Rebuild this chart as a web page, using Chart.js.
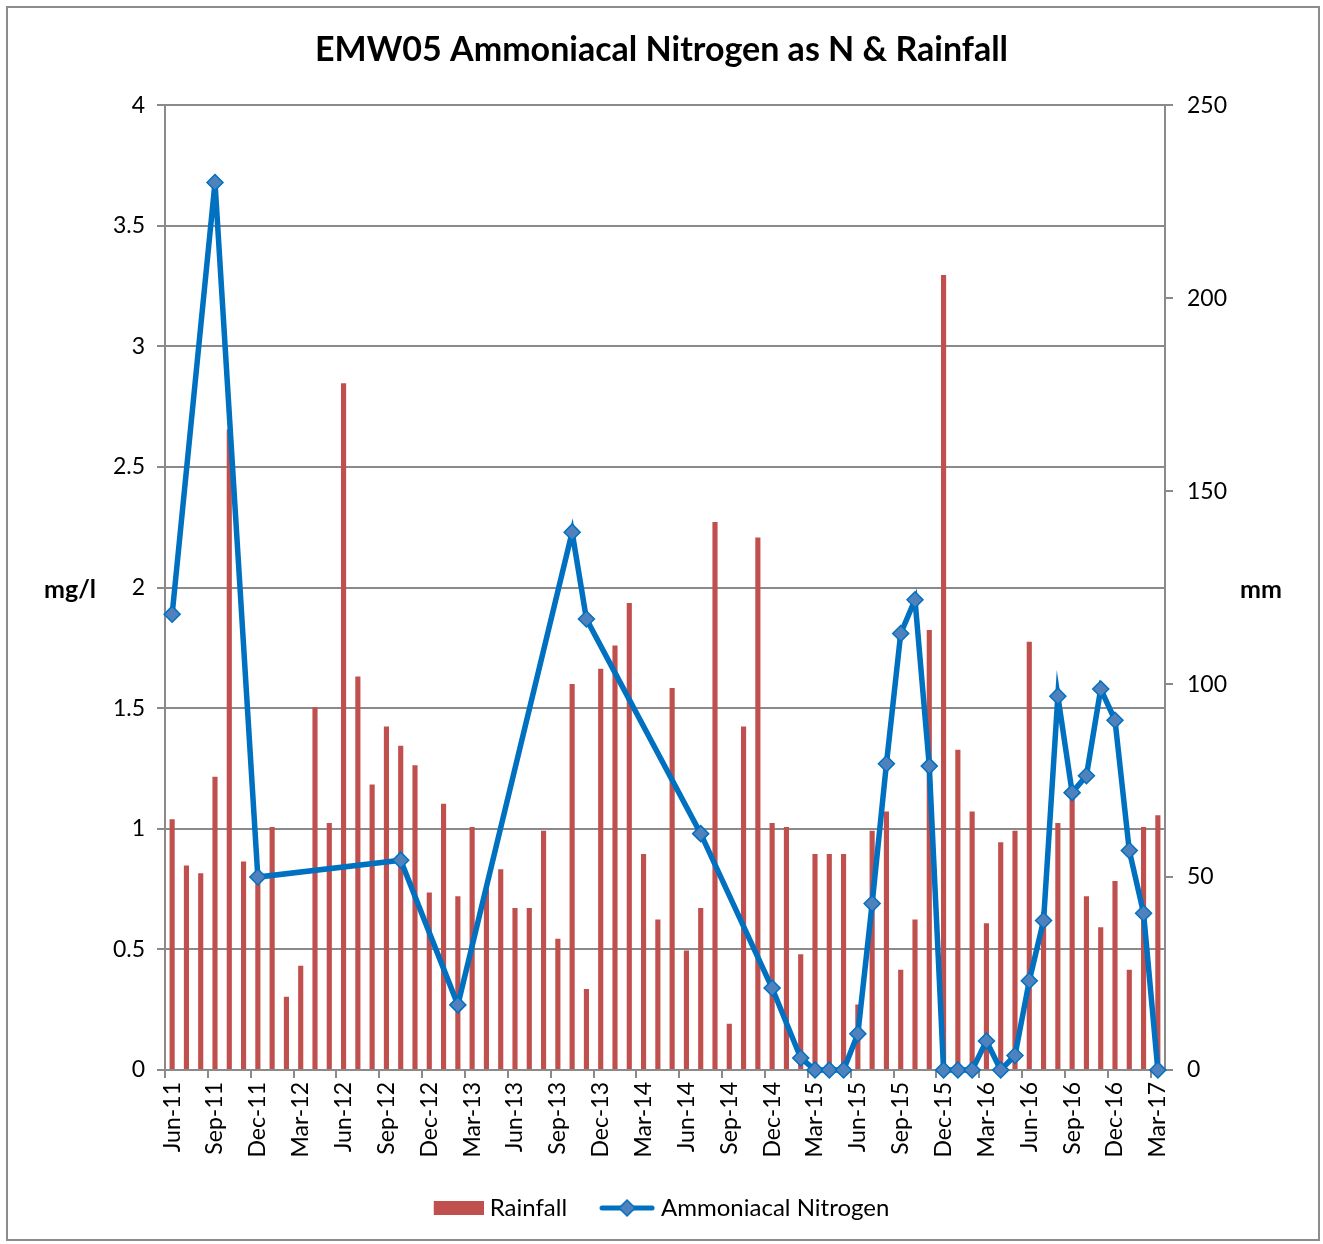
<!DOCTYPE html>
<html>
<head>
<meta charset="utf-8">
<title>EMW05 Ammoniacal Nitrogen as N & Rainfall</title>
<script src="https://cdn.jsdelivr.net/npm/chart.js@4.4.1/dist/chart.umd.min.js"></script>
<style>
  html, body { margin: 0; padding: 0; background: #fff; }
  canvas { display: block; }
</style>
</head>
<body>
<canvas id="chart" width="1323" height="1244"></canvas>
<script>
// Chart data
const chartTitle = 'EMW05 Ammoniacal Nitrogen as N & Rainfall';
const leftAxisTitle = 'mg/l';
const rightAxisTitle = 'mm';

const months = [
    'Jun-11', 'Jul-11', 'Aug-11', 'Sep-11', 'Oct-11', 'Nov-11', 'Dec-11',
    'Jan-12', 'Feb-12', 'Mar-12', 'Apr-12', 'May-12', 'Jun-12', 'Jul-12', 'Aug-12', 'Sep-12', 'Oct-12', 'Nov-12', 'Dec-12',
    'Jan-13', 'Feb-13', 'Mar-13', 'Apr-13', 'May-13', 'Jun-13', 'Jul-13', 'Aug-13', 'Sep-13', 'Oct-13', 'Nov-13', 'Dec-13',
    'Jan-14', 'Feb-14', 'Mar-14', 'Apr-14', 'May-14', 'Jun-14', 'Jul-14', 'Aug-14', 'Sep-14', 'Oct-14', 'Nov-14', 'Dec-14',
    'Jan-15', 'Feb-15', 'Mar-15', 'Apr-15', 'May-15', 'Jun-15', 'Jul-15', 'Aug-15', 'Sep-15', 'Oct-15', 'Nov-15', 'Dec-15',
    'Jan-16', 'Feb-16', 'Mar-16', 'Apr-16', 'May-16', 'Jun-16', 'Jul-16', 'Aug-16', 'Sep-16', 'Oct-16', 'Nov-16', 'Dec-16',
    'Jan-17', 'Feb-17', 'Mar-17'
];

// monthly rainfall, mm (right axis)
const rainfallMm = [
    65, 53, 51, 76, 166, 54, 49, 63, 19, 27,
    94, 64, 178, 102, 74, 89, 84, 79, 46, 69,
    45, 63, 47, 52, 42, 42, 62, 34, 100, 21,
    104, 110, 121, 56, 39, 99, 31, 42, 142, 12,
    89, 138, 64, 63, 30, 56, 56, 56, 17, 62,
    67, 26, 39, 114, 206, 83, 67, 38, 59, 62,
    111, 41, 64, 72, 45, 37, 49, 26, 63, 66
];

// ammoniacal nitrogen, mg/l (left axis), null = no sample that month
const nitrogenMgL = [
    1.89, null, null, 3.68, null, null, 0.80, null, null, null,
    null, null, null, null, null, null, 0.87, null, null, null,
    0.27, null, null, null, null, null, null, null, 2.23, 1.87,
    null, null, null, null, null, null, null, 0.98, null, null,
    null, null, 0.34, null, 0.05, 0, 0, 0, 0.15, 0.69,
    1.27, 1.81, 1.95, 1.26, 0, 0, 0, 0.12, 0, 0.06,
    0.37, 0.62, 1.55, 1.15, 1.22, 1.58, 1.45, 0.91, 0.65, 0
];

const leftAxisRange = [0, 4];
const leftAxisStep = 0.5;
const rightAxisRange = [0, 250];
const rightAxisStep = 50;

// Styles
const barRed = '#C0504D';
const lineBlue = '#0070C0';
const markerFill = '#4F81BD';
const gridGray = '#8a8a8a';
const fontFamily = 'Lato, "Open Sans", sans-serif';

// Legend icons (bar swatch, line with diamond)
function legendIcon(draw) {
    const c = document.createElement('canvas');
    c.width = 56;
    c.height = 22;
    draw(c.getContext('2d'));
    return c;
}
const rainIcon = legendIcon(g => {
    g.fillStyle = barRed;
    g.fillRect(6, 4, 50, 14);
});
const nitroIcon = legendIcon(g => {
    g.strokeStyle = lineBlue;
    g.lineWidth = 5;
    g.lineCap = 'round';
    g.beginPath();
    g.moveTo(3, 11);
    g.lineTo(53, 11);
    g.stroke();
    g.beginPath();
    g.moveTo(20, 11);
    g.lineTo(28, 3);
    g.lineTo(36, 11);
    g.lineTo(28, 19);
    g.closePath();
    g.fillStyle = markerFill;
    g.fill();
    g.lineWidth = 1.5;
    g.stroke();
});
const legendIcons = [rainIcon, nitroIcon];

// Frame, background and horizontal axis titles
const extras = {
    id: 'extras',
    beforeDraw(chart) {
        const ctx = chart.ctx;
        ctx.save();
        ctx.fillStyle = '#fff';
        ctx.fillRect(0, 0, chart.width, chart.height);
        ctx.strokeStyle = '#8c8c8c';
        ctx.lineWidth = 2;
        ctx.strokeRect(7, 7, 1312, 1233);
        ctx.restore();
    },
    afterDraw(chart) {
        const { ctx, chartArea } = chart;
        const midY = (chartArea.top + chartArea.bottom) / 2 + 2;
        ctx.save();
        ctx.font = 'bold 25px ' + fontFamily;
        ctx.fillStyle = '#000';
        ctx.textAlign = 'center';
        ctx.textBaseline = 'middle';
        ctx.fillText(leftAxisTitle, 70, midY);
        ctx.fillText(rightAxisTitle, 1261, midY);
        ctx.restore();
    }
};

const ctx = document.getElementById('chart').getContext('2d');
new Chart(ctx, {
    type: 'bar',
    data: {
        labels: months,
        datasets: [
            {
                type: 'bar',
                label: 'Rainfall',
                data: rainfallMm,
                yAxisID: 'y1',
                backgroundColor: barRed,
                barPercentage: 0.36,
                categoryPercentage: 1.0,
                order: 2
            },
            {
                type: 'line',
                label: 'Ammoniacal Nitrogen',
                data: nitrogenMgL,
                yAxisID: 'y',
                borderColor: lineBlue,
                borderWidth: 5.5,
                spanGaps: true,
                tension: 0,
                pointStyle: 'rectRot',
                pointRadius: 8,
                pointBackgroundColor: markerFill,
                pointBorderColor: lineBlue,
                pointBorderWidth: 1.5,
                clip: false,
                order: 1
            }
        ]
    },
    options: {
        responsive: false,
        animation: false,
        events: [],
        layout: { padding: { top: 10, left: 10, right: 10, bottom: 14 } },
        plugins: {
            title: {
                display: true,
                text: chartTitle,
                color: '#000',
                font: { family: fontFamily, size: 34, weight: 'bold' },
                padding: { top: 20, bottom: 34.5 }
            },
            legend: {
                position: 'bottom',
                labels: {
                    usePointStyle: true,
                    pointStyleWidth: 44,
                    boxHeight: 21,
                    padding: 38,
                    color: '#000',
                    font: { family: fontFamily, size: 24 },
                    generateLabels(chart) {
                        const items = Chart.defaults.plugins.legend.labels.generateLabels(chart);
                        items.sort((a, b) => a.datasetIndex - b.datasetIndex);
                        items.forEach(it => { it.pointStyle = legendIcons[it.datasetIndex]; });
                        return items;
                    }
                }
            },
            tooltip: { enabled: false }
        },
        scales: {
            x: {
                offset: true,
                grid: {
                    offset: true,
                    drawOnChartArea: false,
                    tickLength: 8,
                    lineWidth: 2,
                    tickColor: c => (c.index % 3 === 0 ? gridGray : 'rgba(0,0,0,0)')
                },
                border: { color: gridGray, width: 2 },
                ticks: {
                    autoSkip: false,
                    minRotation: 90,
                    maxRotation: 90,
                    padding: 4,
                    color: '#000',
                    font: { family: fontFamily, size: 23 },
                    callback: (v, i) => (i % 3 === 0 ? months[i] : '')
                },
                afterFit: s => { s.height = 88; }
            },
            y: {
                position: 'left',
                min: leftAxisRange[0],
                max: leftAxisRange[1],
                ticks: {
                    stepSize: leftAxisStep,
                    padding: 12,
                    color: '#000',
                    font: { family: fontFamily, size: 23 },
                    callback: v => String(v)
                },
                grid: { color: gridGray, lineWidth: 2, tickLength: 8 },
                border: { color: gridGray, width: 2 },
                afterFit: s => { s.width = 155; }
            },
            y1: {
                position: 'right',
                min: rightAxisRange[0],
                max: rightAxisRange[1],
                ticks: {
                    stepSize: rightAxisStep,
                    padding: 14,
                    color: '#000',
                    font: { family: fontFamily, size: 23 }
                },
                grid: { drawOnChartArea: false, color: gridGray, lineWidth: 2, tickLength: 8 },
                border: { color: gridGray, width: 2 },
                afterFit: s => { s.width = 148; }
            }
        }
    },
    plugins: [extras]
});
</script>
</body>
</html>
